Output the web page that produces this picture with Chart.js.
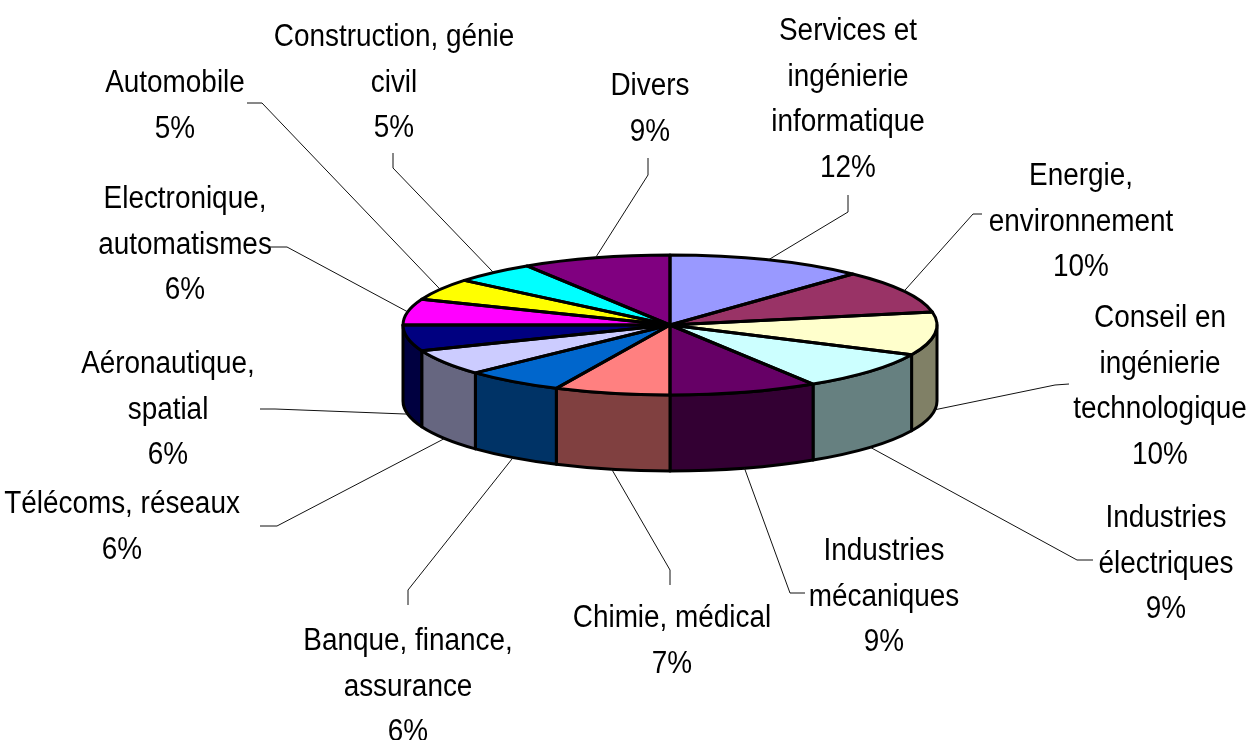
<!DOCTYPE html>
<html>
<head>
<meta charset="utf-8">
<script src="https://cdn.jsdelivr.net/npm/chart.js@4/dist/chart.umd.min.js"></script>
<style>
  html, body { margin: 0; padding: 0; background: #fff; }
  canvas { display: block; }
</style>
</head>
<body>
<canvas id="pie" width="1252" height="740"></canvas>
<script>
// Sectors, clockwise from 12 o'clock
const sectors = [
  ["Services et", "ingénierie", "informatique"],
  ["Energie,", "environnement"],
  ["Conseil en", "ingénierie", "technologique"],
  ["Industries", "électriques"],
  ["Industries", "mécaniques"],
  ["Chimie, médical"],
  ["Banque, finance,", "assurance"],
  ["Télécoms, réseaux"],
  ["Aéronautique,", "spatial"],
  ["Electronique,", "automatismes"],
  ["Automobile"],
  ["Construction, génie", "civil"],
  ["Divers"]
]
const shares = [12, 10, 10, 9, 9, 7, 6, 6, 6, 6, 5, 5, 9]

const topColors = [
  "#9999FF", "#993366", "#FFFFCC", "#CCFFFF", "#660066", "#FF8080", "#0066CC",
  "#CCCCFF", "#000080", "#FF00FF", "#FFFF00", "#00FFFF", "#800080"
]

// label placement: text centre x, first baseline y, leader start + elbow
const labelLayout = [
  { x: 848, y: 40, lead: [[848, 195], [848, 212]] },
  { x: 1081, y: 185, lead: [[982, 214], [973, 214]] },
  { x: 1160, y: 327, lead: [[1069, 384], [1055, 385]] },
  { x: 1166, y: 527, lead: [[1093, 560], [1077, 560]] },
  { x: 884, y: 560, lead: [[805, 593], [790, 593]] },
  { x: 672, y: 627, lead: [[670, 585], [670, 570]] },
  { x: 408, y: 650, lead: [[408, 605], [408, 590]] },
  { x: 122, y: 513, lead: [[260, 526], [277, 526]] },
  { x: 168, y: 373, lead: [[260, 409], [275, 409]] },
  { x: 185, y: 208, lead: [[270, 247], [287, 247]] },
  { x: 175, y: 92, lead: [[247, 103], [262, 103]] },
  { x: 394, y: 46, lead: [[393, 153], [393, 168]] },
  { x: 650, y: 95, lead: [[648, 158], [648, 175]] }
]

const squash = 70 / 267   // vertical flattening of the disc
const depth = 76          // height of the side wall
const lineGap = 45.5

function darken(hex, f) {
  const n = parseInt(hex.slice(1), 16)
  const r = Math.round(((n >> 16) & 255) * f)
  const g = Math.round(((n >> 8) & 255) * f)
  const b = Math.round((n & 255) * f)
  return `rgb(${r}, ${g}, ${b})`
}

const pie3d = {
  id: "pie3d",
  beforeDatasetsDraw(chart) {
    const ctx = chart.ctx
    const arcs = chart.getDatasetMeta(0).data
    const { x: cx, y: cy, outerRadius: rx } = arcs[0]
    const ry = rx * squash

    // front side walls
    ctx.save()
    ctx.lineWidth = 3
    ctx.lineJoin = "round"
    ctx.strokeStyle = "#000"
    arcs.forEach((arc, i) => {
      const a = Math.max(arc.startAngle, 0)
      const b = Math.min(arc.endAngle, Math.PI)
      if (a >= b) return
      ctx.beginPath()
      ctx.ellipse(cx, cy, rx, ry, 0, a, b)
      ctx.lineTo(cx + rx * Math.cos(b), cy + ry * Math.sin(b) + depth)
      ctx.ellipse(cx, cy + depth, rx, ry, 0, b, a, true)
      ctx.closePath()
      ctx.fillStyle = darken(topColors[i], 0.5)
      ctx.fill()
      ctx.stroke()
    })
    ctx.restore()

    // flatten the top face that Chart.js draws
    ctx.save()
    ctx.translate(cx, cy)
    ctx.scale(1, squash)
    ctx.translate(-cx, -cy)
  },
  afterDatasetsDraw(chart) {
    const ctx = chart.ctx
    ctx.restore()
    const arcs = chart.getDatasetMeta(0).data
    const { x: cx, y: cy, outerRadius: rx } = arcs[0]
    const ry = rx * squash

    ctx.save()
    ctx.lineWidth = 3
    ctx.lineJoin = "round"
    ctx.strokeStyle = "#000"
    arcs.forEach(arc => {
      ctx.beginPath()
      ctx.moveTo(cx, cy)
      ctx.ellipse(cx, cy, rx, ry, 0, arc.startAngle, arc.endAngle)
      ctx.closePath()
      ctx.stroke()
    })

    // leader lines and labels
    ctx.lineWidth = 1
    ctx.strokeStyle = "#111"
    ctx.fillStyle = "#000"
    ctx.font = '31px "Liberation Sans", Arial, sans-serif'
    ctx.textAlign = "center"
    ctx.textBaseline = "alphabetic"
    arcs.forEach((arc, i) => {
      const mid = (arc.startAngle + arc.endAngle) / 2
      const front = Math.sin(mid) > 0
      const ax = cx + rx * Math.cos(mid)
      const ay = cy + ry * Math.sin(mid) + (front ? depth : 0)
      const lay = labelLayout[i]
      ctx.beginPath()
      ctx.moveTo(lay.lead[0][0], lay.lead[0][1])
      ctx.lineTo(lay.lead[1][0], lay.lead[1][1])
      ctx.lineTo(ax, ay)
      ctx.stroke()

      const lines = sectors[i].concat([shares[i] + "%"])
      lines.forEach((t, k) => {
        ctx.save()
        ctx.translate(lay.x, lay.y + k * lineGap)
        ctx.scale(0.9, 1)
        ctx.fillText(t, 0, 0)
        ctx.restore()
      })
    })
    ctx.restore()
  }
}

new Chart(document.getElementById("pie"), {
  type: "pie",
  data: {
    labels: sectors,
    datasets: [{
      data: shares,
      backgroundColor: topColors,
      borderWidth: 0,
      hoverOffset: 0,
      offset: 0
    }]
  },
  options: {
    responsive: false,
    animation: false,
    events: [],
    layout: { padding: { left: 403, right: 315, top: 58, bottom: 148 } },
    plugins: {
      legend: { display: false },
      tooltip: { enabled: false }
    }
  },
  plugins: [pie3d]
})
</script>
</body>
</html>
